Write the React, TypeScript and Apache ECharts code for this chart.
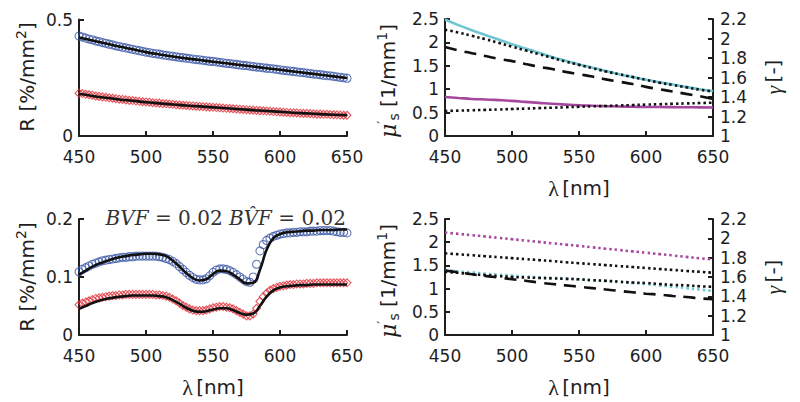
import React, { useEffect, useRef } from "react";
import * as echarts from "echarts";

const WL25 = [
  450, 452.5, 455, 457.5, 460, 462.5, 465, 467.5, 470, 472.5, 475, 477.5, 480, 482.5, 485, 487.5, 490, 492.5, 495, 497.5,
  500, 502.5, 505, 507.5, 510, 512.5, 515, 517.5, 520, 522.5, 525, 527.5, 530, 532.5, 535, 537.5, 540, 542.5, 545, 547.5,
  550, 552.5, 555, 557.5, 560, 562.5, 565, 567.5, 570, 572.5, 575, 577.5, 580, 582.5, 585, 587.5, 590, 592.5, 595, 597.5,
  600, 602.5, 605, 607.5, 610, 612.5, 615, 617.5, 620, 622.5, 625, 627.5, 630, 632.5, 635, 637.5, 640, 642.5, 645, 647.5,
  650,
];
const WL5 = [450, 455, 460, 465, 470, 475, 480, 485, 490, 495, 500, 505, 510, 515, 520, 525, 530, 535, 540, 545, 550, 555, 560, 565, 570, 575, 580, 585, 590, 595, 600, 605, 610, 615, 620, 625, 630, 635, 640, 645, 650];
const WL10 = [450, 460, 470, 480, 490, 500, 510, 520, 530, 540, 550, 560, 570, 580, 590, 600, 610, 620, 630, 640, 650];

// Top-left: measured reflectance (2.5 nm) and fits (10 nm)
const tlBlueMeas = [
  0.429, 0.425, 0.420, 0.416, 0.413, 0.408, 0.405, 0.401, 0.398, 0.394, 0.391, 0.387, 0.384, 0.381, 0.378, 0.375, 0.372, 0.369, 0.366, 0.363,
  0.360, 0.358, 0.355, 0.353, 0.351, 0.348, 0.346, 0.344, 0.342, 0.340, 0.338, 0.336, 0.334, 0.332, 0.330, 0.328, 0.327, 0.325, 0.323, 0.321,
  0.320, 0.318, 0.316, 0.314, 0.312, 0.311, 0.309, 0.307, 0.305, 0.303, 0.302, 0.300, 0.298, 0.296, 0.295, 0.293, 0.291, 0.289, 0.288, 0.286,
  0.284, 0.282, 0.280, 0.279, 0.277, 0.275, 0.273, 0.272, 0.270, 0.268, 0.266, 0.265, 0.263, 0.261, 0.259, 0.258, 0.256, 0.254, 0.252, 0.250,
  0.248,
];
const tlBlueFit = [0.423, 0.410, 0.397, 0.384, 0.372, 0.360, 0.350, 0.341, 0.333, 0.326, 0.319, 0.312, 0.305, 0.298, 0.291, 0.284, 0.277, 0.270, 0.263, 0.256, 0.249];
const tlRedMeas = [
  0.184, 0.182, 0.179, 0.177, 0.175, 0.172, 0.170, 0.168, 0.166, 0.164, 0.162, 0.160, 0.158, 0.157, 0.155, 0.153, 0.152, 0.150, 0.149, 0.147,
  0.146, 0.145, 0.143, 0.142, 0.141, 0.139, 0.138, 0.137, 0.136, 0.134, 0.133, 0.132, 0.131, 0.130, 0.129, 0.128, 0.127, 0.126, 0.125, 0.124,
  0.123, 0.122, 0.121, 0.120, 0.119, 0.118, 0.117, 0.116, 0.115, 0.114, 0.113, 0.112, 0.111, 0.110, 0.109, 0.108, 0.107, 0.106, 0.105, 0.104,
  0.103, 0.102, 0.101, 0.100, 0.100, 0.099, 0.098, 0.097, 0.097, 0.096, 0.095, 0.094, 0.094, 0.093, 0.093, 0.092, 0.091, 0.091, 0.090, 0.089,
  0.089,
];
const tlRedFit = [0.181, 0.172, 0.164, 0.157, 0.151, 0.145, 0.140, 0.135, 0.131, 0.127, 0.123, 0.119, 0.115, 0.111, 0.107, 0.104, 0.100, 0.097, 0.094, 0.091, 0.089];

// Bottom-left: measured (2.5 nm), fits (5 nm)
const blBlueMeas = [
  0.109, 0.113, 0.116, 0.119, 0.122, 0.124, 0.126, 0.128, 0.129, 0.130, 0.131, 0.132, 0.133, 0.134, 0.134, 0.135, 0.135, 0.136, 0.136, 0.136,
  0.136, 0.136, 0.136, 0.136, 0.135, 0.134, 0.132, 0.130, 0.127, 0.123, 0.118, 0.113, 0.108, 0.103, 0.099, 0.096, 0.095, 0.095, 0.097, 0.102,
  0.108, 0.112, 0.114, 0.114, 0.113, 0.111, 0.108, 0.104, 0.100, 0.096, 0.092, 0.091, 0.100, 0.122, 0.145, 0.156, 0.163, 0.167, 0.170, 0.172,
  0.174, 0.175, 0.176, 0.176, 0.177, 0.177, 0.178, 0.178, 0.178, 0.179, 0.179, 0.179, 0.180, 0.180, 0.180, 0.180, 0.179, 0.178, 0.177, 0.177,
  0.176,
];
const blBlueFit = [0.104, 0.111, 0.118, 0.123, 0.127, 0.131, 0.134, 0.136, 0.138, 0.139, 0.140, 0.140, 0.139, 0.136, 0.128, 0.118, 0.107, 0.098, 0.094, 0.096, 0.105, 0.111, 0.110, 0.104, 0.096, 0.089, 0.090, 0.112, 0.147, 0.167, 0.174, 0.177, 0.178, 0.179, 0.180, 0.180, 0.181, 0.181, 0.181, 0.182, 0.182];
const blRedMeas = [
  0.052, 0.055, 0.057, 0.059, 0.061, 0.063, 0.064, 0.065, 0.066, 0.067, 0.068, 0.068, 0.069, 0.069, 0.070, 0.070, 0.070, 0.070, 0.070, 0.070,
  0.070, 0.070, 0.070, 0.069, 0.069, 0.068, 0.067, 0.065, 0.062, 0.059, 0.055, 0.051, 0.048, 0.045, 0.043, 0.042, 0.042, 0.042, 0.043, 0.045,
  0.047, 0.048, 0.049, 0.049, 0.048, 0.047, 0.045, 0.042, 0.039, 0.036, 0.033, 0.033, 0.036, 0.046, 0.058, 0.066, 0.072, 0.077, 0.080, 0.082,
  0.084, 0.085, 0.086, 0.087, 0.087, 0.088, 0.088, 0.088, 0.089, 0.089, 0.089, 0.090, 0.090, 0.090, 0.090, 0.090, 0.090, 0.090, 0.090, 0.090,
  0.090,
];
const blRedFit = [0.045, 0.050, 0.055, 0.059, 0.062, 0.064, 0.066, 0.067, 0.068, 0.068, 0.068, 0.068, 0.067, 0.065, 0.060, 0.054, 0.047, 0.042, 0.040, 0.041, 0.044, 0.046, 0.046, 0.043, 0.038, 0.035, 0.037, 0.050, 0.066, 0.077, 0.082, 0.084, 0.085, 0.086, 0.086, 0.087, 0.087, 0.087, 0.087, 0.087, 0.087];

// Top-right (10 nm)
const trMusTrue = [2.49, 2.37, 2.26, 2.16, 2.06, 1.96, 1.87, 1.78, 1.69, 1.61, 1.53, 1.46, 1.39, 1.32, 1.26, 1.20, 1.15, 1.10, 1.05, 1.00, 0.96];
const trMusEst = [2.27, 2.21, 2.14, 2.07, 1.99, 1.91, 1.83, 1.75, 1.67, 1.59, 1.52, 1.45, 1.38, 1.32, 1.26, 1.20, 1.14, 1.09, 1.04, 0.99, 0.95];
const trDashed = [1.90, 1.83, 1.77, 1.71, 1.65, 1.60, 1.54, 1.48, 1.43, 1.37, 1.32, 1.27, 1.21, 1.16, 1.11, 1.05, 1.00, 0.95, 0.90, 0.85, 0.79];
const trGammaTrue = [1.40, 1.39, 1.38, 1.375, 1.368, 1.36, 1.35, 1.34, 1.33, 1.322, 1.315, 1.31, 1.306, 1.303, 1.30, 1.298, 1.297, 1.296, 1.295, 1.294, 1.293];
const trGammaEst = [1.256, 1.260, 1.264, 1.268, 1.272, 1.277, 1.281, 1.286, 1.290, 1.295, 1.300, 1.304, 1.308, 1.313, 1.317, 1.322, 1.326, 1.330, 1.334, 1.338, 1.342];

// Bottom-right (10 nm)
const brGammaTrue = [2.06, 2.046, 2.033, 2.019, 2.005, 1.991, 1.977, 1.963, 1.949, 1.935, 1.922, 1.907, 1.893, 1.879, 1.865, 1.851, 1.837, 1.823, 1.808, 1.794, 1.78];
const brGammaEst = [1.845, 1.835, 1.825, 1.815, 1.805, 1.795, 1.785, 1.775, 1.765, 1.753, 1.743, 1.733, 1.723, 1.713, 1.703, 1.693, 1.683, 1.673, 1.663, 1.654, 1.644];
const brMusTrue = [1.40, 1.37, 1.35, 1.32, 1.30, 1.28, 1.26, 1.24, 1.23, 1.22, 1.20, 1.18, 1.16, 1.14, 1.12, 1.10, 1.07, 1.04, 1.01, 0.98, 0.95];
const brMusEst = [1.36, 1.34, 1.31, 1.29, 1.27, 1.25, 1.24, 1.23, 1.22, 1.21, 1.20, 1.18, 1.17, 1.15, 1.13, 1.12, 1.10, 1.08, 1.07, 1.05, 1.04];
const brDashed = [1.39, 1.35, 1.31, 1.27, 1.24, 1.20, 1.17, 1.13, 1.10, 1.07, 1.04, 1.01, 0.98, 0.95, 0.92, 0.89, 0.87, 0.84, 0.82, 0.79, 0.77];

const X_TICKS = { min: 450, max: 650, interval: 50 };
const Y_R_TOP = { min: 0, max: 0.5, interval: 0.5 };
const Y_R_BOT = { min: 0, max: 0.2, interval: 0.1 };
const Y_MUS = { min: 0, max: 2.5, interval: 0.5 };
const Y_GAMMA = { min: 1, max: 2.2, interval: 0.2 };

const BLUE = "#3a56a6";
const RED = "#e0303a";
const CYAN = "#6fc6d1";
const MAGENTA = "#a5489d";
const INK = "#1e1e1e";
const SANS = "DejaVu Sans, Liberation Sans, sans-serif";
const SERIF = "DejaVu Serif, serif";

const pairs = (xs: number[], ys: number[]) => xs.map((x, i) => [x, ys[i]]);

const axisCommon = (labelMargin: number) => ({
  axisLine: { show: true, onZero: false, lineStyle: { color: INK, width: 2 } },
  axisTick: { show: true, inside: true, length: 5, lineStyle: { color: INK, width: 2 } },
  splitLine: { show: false },
  axisLabel: {
    fontSize: 17,
    fontFamily: SANS,
    color: INK,
    margin: labelMargin,
    showMinLabel: true,
    showMaxLabel: true,
    hideOverlap: false,
  },
});

const xAxis = (gi: number) => ({ type: "value", gridIndex: gi, ...X_TICKS, ...axisCommon(12) });
const yAxis = (gi: number, r: any, pos: "left" | "right", m: number) => ({
  type: "value",
  gridIndex: gi,
  position: pos,
  ...r,
  ...axisCommon(m),
});

const markers = (xi: number, yi: number, data: any, color: string, symbol: string, size: number) => ({
  type: "scatter",
  xAxisIndex: xi,
  yAxisIndex: yi,
  data,
  symbol,
  symbolSize: size,
  itemStyle: { color: "rgba(0,0,0,0)", borderColor: color, borderWidth: 1.1 },
  z: 2,
  silent: true,
});

const line = (xi: number, yi: number, data: any, color: string, width: number, type: any) => ({
  type: "line",
  xAxisIndex: xi,
  yAxisIndex: yi,
  data,
  showSymbol: false,
  smooth: true,
  lineStyle: { color, width, type },
  z: 3,
  silent: true,
});

const DOT = [2.5, 3];
const DASH = [12, 8];

const rTitle = (y: number) => ({
  type: "text",
  x: 27,
  y,
  rotation: Math.PI / 2,
  style: {
    text: "{a|R [%/mm}{s|2}{a|]}",
    align: "center",
    verticalAlign: "middle",
    rich: {
      a: { fontSize: 20, fontFamily: SANS, fill: INK, lineHeight: 26 },
      s: { fontSize: 14, fontFamily: SANS, fill: INK, verticalAlign: "top", lineHeight: 26 },
    },
  },
});

const musTitle = (y: number) => ({
  type: "text",
  x: 388,
  y,
  rotation: Math.PI / 2,
  style: {
    text: "{m|μ}{p|′}{b|s}{a| [1/mm}{s|1}{a|]}",
    align: "center",
    verticalAlign: "middle",
    rich: {
      m: { fontSize: 22, fontFamily: SERIF, fontStyle: "italic", fill: INK, lineHeight: 26 },
      p: { fontSize: 14, fontFamily: SANS, fill: INK, verticalAlign: "top", lineHeight: 26 },
      b: { fontSize: 14, fontFamily: SANS, fill: INK, verticalAlign: "bottom", lineHeight: 26 },
      a: { fontSize: 20, fontFamily: SANS, fill: INK, lineHeight: 26 },
      s: { fontSize: 14, fontFamily: SANS, fill: INK, verticalAlign: "top", lineHeight: 26 },
    },
  },
});

const gammaTitle = (y: number) => ({
  type: "text",
  x: 773,
  y,
  rotation: Math.PI / 2,
  style: {
    text: "{g|γ} {a|[-]}",
    align: "center",
    verticalAlign: "middle",
    rich: {
      g: { fontSize: 22, fontFamily: "Liberation Serif, serif", fontStyle: "italic", fill: INK },
      a: { fontSize: 20, fontFamily: SANS, fill: INK },
    },
  },
});

const lambdaTitle = (x: number, y: number) => ({
  type: "text",
  x,
  y,
  style: {
    text: "{l|λ} {a|[nm]}",
    align: "center",
    verticalAlign: "middle",
    rich: {
      l: { fontSize: 22, fontFamily: "Liberation Serif, serif", fill: INK },
      a: { fontSize: 20, fontFamily: SANS, fill: INK },
    },
  },
});

const option: any = {
  animation: false,
  backgroundColor: "#ffffff",
  grid: [
    { left: 79, top: 19.5, width: 268, height: 116.5 },
    { left: 445, top: 19, width: 268, height: 117 },
    { left: 79, top: 219, width: 268, height: 116 },
    { left: 445, top: 219, width: 268, height: 116 },
  ],
  xAxis: [xAxis(0), xAxis(1), xAxis(2), xAxis(3)],
  yAxis: [
    yAxis(0, Y_R_TOP, "left", 6),
    yAxis(1, Y_MUS, "left", 6),
    yAxis(1, Y_GAMMA, "right", 7),
    yAxis(2, Y_R_BOT, "left", 6),
    yAxis(3, Y_MUS, "left", 6),
    yAxis(3, Y_GAMMA, "right", 7),
  ],
  series: [
    markers(0, 0, pairs(WL25, tlBlueMeas), BLUE, "circle", 8),
    markers(0, 0, pairs(WL25, tlRedMeas), RED, "diamond", 8),
    line(0, 0, pairs(WL10, tlBlueFit), "#111", 2.6, "solid"),
    line(0, 0, pairs(WL10, tlRedFit), "#111", 2.6, "solid"),

    line(1, 1, pairs(WL10, trMusTrue), CYAN, 2.6, "solid"),
    line(1, 1, pairs(WL10, trMusEst), "#111", 2.6, DOT),
    line(1, 1, pairs(WL10, trDashed), "#111", 2.6, DASH),
    line(1, 2, pairs(WL10, trGammaTrue), MAGENTA, 2.6, "solid"),
    line(1, 2, pairs(WL10, trGammaEst), "#111", 2.6, DOT),

    markers(2, 3, pairs(WL25, blBlueMeas), BLUE, "circle", 8),
    markers(2, 3, pairs(WL25, blRedMeas), RED, "diamond", 8),
    line(2, 3, pairs(WL5, blBlueFit), "#111", 2.6, "solid"),
    line(2, 3, pairs(WL5, blRedFit), "#111", 2.6, "solid"),

    line(3, 5, pairs(WL10, brGammaTrue), MAGENTA, 2.6, DOT),
    line(3, 5, pairs(WL10, brGammaEst), "#111", 2.6, DOT),
    line(3, 4, pairs(WL10, brMusTrue), CYAN, 2.6, DOT),
    line(3, 4, pairs(WL10, brMusEst), "#111", 2.6, DOT),
    line(3, 4, pairs(WL10, brDashed), "#111", 2.6, DASH),
  ],
  graphic: [
    rTitle(77),
    rTitle(277),
    musTitle(81),
    musTitle(281),
    gammaTitle(77),
    gammaTitle(277),
    lambdaTitle(579, 188),
    lambdaTitle(213, 387),
    lambdaTitle(579, 387),
    {
      type: "text",
      x: 346,
      y: 218,
      style: {
        text: "{i|BVF}{n| = 0.02 }{i|BV̂F}{n| = 0.02}",
        align: "right",
        verticalAlign: "middle",
        rich: {
          i: { fontSize: 20, fontFamily: SERIF, fontStyle: "italic", fill: "#333" },
          n: { fontSize: 20, fontFamily: SERIF, fill: "#333" },
        },
      },
    },
  ],
};

export default function App() {
  const ref = useRef<HTMLDivElement>(null);
  useEffect(() => {
    const chart = echarts.init(ref.current!, null, { renderer: "svg" });
    chart.setOption(option);
    return () => chart.dispose();
  }, []);
  return (
    <div
      ref={ref}
      style={{ position: "absolute", left: 0, top: 0, width: 800, height: 402, background: "#fff" }}
    />
  );
}
